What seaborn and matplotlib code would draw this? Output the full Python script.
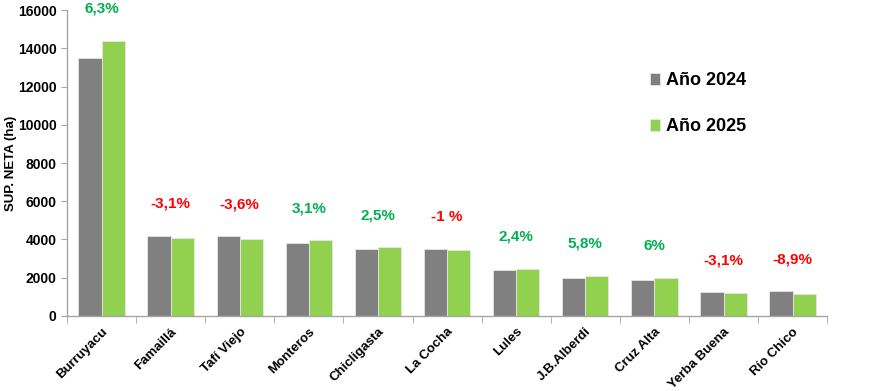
import numpy as np
import pandas as pd
import matplotlib
matplotlib.use("Agg")
import matplotlib.pyplot as plt
import seaborn as sns

departamentos = ["Burruyacu", "Famaillá", "Tafí Viejo", "Monteros", "Chicligasta",
                 "La Cocha", "Lules", "J.B.Alberdi", "Cruz Alta", "Yerba Buena", "Río Chico"]
anio_2024 = [13520, 4200, 4170, 3830, 3500, 3490, 2400, 2000, 1880, 1250, 1280]
anio_2025 = [14400, 4070, 4030, 3950, 3590, 3455, 2460, 2115, 1990, 1210, 1165]
variacion = ["6,3%", "-3,1%", "-3,6%", "3,1%", "2,5%", "-1 %", "2,4%", "5,8%", "6%", "-3,1%", "-8,9%"]

df = pd.DataFrame({
    "Departamento": departamentos * 2,
    "Sup": anio_2024 + anio_2025,
    "Año": ["Año 2024"] * len(departamentos) + ["Año 2025"] * len(departamentos),
})

sns.set_style("white")
plt.rcParams["font.family"] = ["Liberation Sans", "DejaVu Sans"]
plt.rcParams["text.color"] = "black"
plt.rcParams["axes.labelcolor"] = "black"
plt.rcParams["xtick.color"] = "black"
plt.rcParams["ytick.color"] = "black"

fig = plt.figure(figsize=(8.86, 3.91), dpi=100)
ax = fig.add_axes([0.0756, 0.192, 0.858, 0.782])

sns.barplot(data=df, x="Departamento", y="Sup", hue="Año",
            palette=["#808080", "#92D050"], width=0.67, gap=0,
            saturation=1, ax=ax, legend=True, edgecolor="#E6E6E6", linewidth=0.6)

for i, (a, b, t) in enumerate(zip(anio_2024, anio_2025, variacion)):
    col = "#FF0000" if t.startswith("-") else "#00B050"
    ax.annotate(t, xy=(i, max(a, b)), xytext=(0, 18), textcoords="offset points",
                ha="center", va="bottom", color=col, fontsize=11, fontweight="bold",
                annotation_clip=False)

ax.set_ylim(0, 16000)
ax.set_xlim(-0.5, len(departamentos) - 0.5)
ax.set_yticks(np.arange(0, 16001, 2000))
ax.set_ylabel("SUP. NETA (ha)", fontsize=9.5, fontweight="bold")
ax.yaxis.set_label_coords(-0.066, 0.5)
ax.set_xlabel("")

ax.set_xticks(np.arange(len(departamentos)))
ax.set_xticklabels(departamentos, rotation=45, ha="right", rotation_mode="anchor",
                   fontsize=9.5, fontweight="bold")
ax.tick_params(axis="x", which="major", length=0, pad=7)
ax.set_xticks(np.arange(-0.5, len(departamentos), 1), minor=True)
ax.tick_params(axis="x", which="minor", length=5, color="#A6A6A6", direction="out", bottom=True)
ax.tick_params(axis="y", length=4, color="#A6A6A6", labelcolor="black", direction="out",
               left=True, labelsize=10)
for lab in ax.get_yticklabels():
    lab.set_fontweight("bold")

sns.despine(ax=ax, top=True, right=True)
for s in ["left", "bottom"]:
    ax.spines[s].set_color("#A6A6A6")
    ax.spines[s].set_linewidth(1)

ax.legend(loc="upper left", bbox_to_anchor=(0.745, 0.85), frameon=False,
          prop={"size": 13, "weight": "bold"}, handlelength=0.6, handleheight=0.6,
          handletextpad=0.3, labelspacing=1.6)

fig.savefig("out.png", dpi=100)
